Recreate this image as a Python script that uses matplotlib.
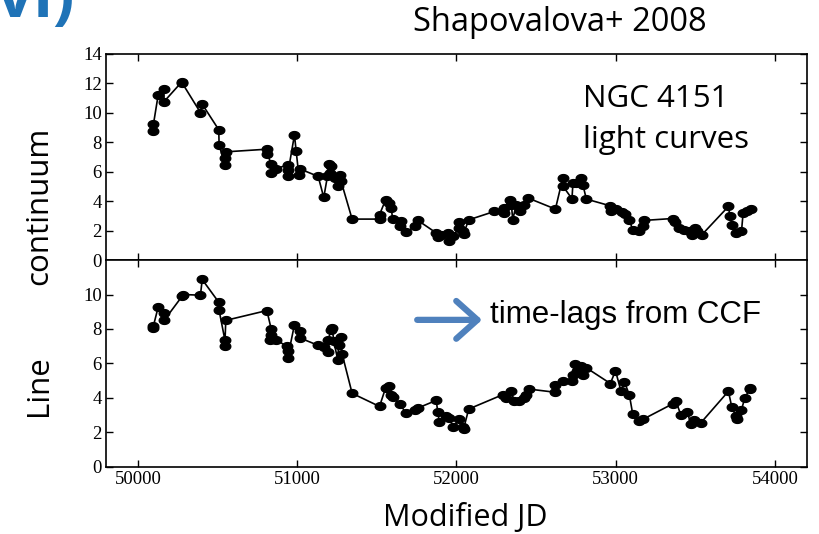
import numpy as np
import matplotlib
matplotlib.use("Agg")
import matplotlib.pyplot as plt
from matplotlib.path import Path

# continuum light curve
cont_mjd = [50094, 50098, 50128, 50163, 50165, 50278, 50280, 50393, 50404, 50508,
            50510, 50546, 50546, 50552, 50810, 50812, 50837, 50835, 50868, 50940,
            50943, 50945, 50983, 50994, 51010, 51015, 51132, 51167, 51190, 51203,
            51213, 51208, 51240, 51255, 51270, 51276, 51345, 51517, 51517, 51555,
            51576, 51590, 51600, 51643, 51653, 51685, 51737, 51758, 51873, 51883,
            51904, 51946, 51952, 51977, 52019, 52019, 52040, 52045, 52077, 52238,
            52296, 52300, 52339, 52345, 52353, 52375, 52400, 52427, 52452, 52621,
            52667, 52667, 52725, 52731, 52752, 52784, 52794, 52815, 52966, 52972,
            53000, 53042, 53060, 53085, 53106, 53147, 53172, 53178, 53357, 53372,
            53398, 53430, 53461, 53477, 53498, 53512, 53540, 53707, 53717, 53731,
            53752, 53789, 53799, 53826, 53847]
cont_flux = [8.78, 9.23, 11.24, 11.63, 10.77, 12.13, 12.0, 10.02, 10.59, 8.85,
             7.83, 6.47, 6.92, 7.35, 7.53, 7.22, 6.54, 5.9, 6.2, 6.47,
             5.68, 6.1, 8.5, 7.38, 5.8, 6.2, 5.68, 4.25, 5.68, 6.52,
             6.36, 5.9, 5.6, 5.0, 5.75, 5.34, 2.78, 2.78, 3.08, 4.09,
             3.87, 3.52, 2.78, 2.33, 2.62, 1.88, 2.29, 2.69, 1.84, 1.57,
             1.72, 1.84, 1.31, 1.66, 2.17, 2.55, 1.95, 1.8, 2.73, 3.3,
             3.53, 3.2, 4.09, 3.75, 2.73, 3.75, 3.3, 3.75, 4.2, 3.46,
             5.56, 5.04, 4.16, 5.22, 5.22, 5.56, 5.1, 4.14, 3.68, 3.36,
             3.46, 3.23, 3.1, 2.73, 2.05, 1.94, 2.33, 2.69, 2.82, 2.6,
             2.17, 2.05, 1.94, 1.71, 2.17, 1.94, 1.71, 3.64, 2.96, 2.39,
             1.83, 1.94, 3.17, 3.35, 3.46]

# emission line light curve
line_mjd = [50094, 50098, 50128, 50163, 50165, 50278, 50282, 50393, 50404, 50508,
            50510, 50546, 50546, 50552, 50810, 50837, 50835, 50832, 50868, 50935,
            50940, 50940, 50983, 51015, 51018, 51132, 51167, 51192, 51195, 51213,
            51220, 51230, 51255, 51260, 51276, 51282, 51345, 51517, 51555, 51576,
            51590, 51600, 51643, 51685, 51737, 51758, 51873, 51883, 51893, 51935,
            51952, 51981, 52019, 52040, 52045, 52077, 52290, 52310, 52343, 52363,
            52395, 52421, 52436, 52453, 52621, 52621, 52667, 52725, 52731, 52742,
            52756, 52784, 52794, 52815, 52966, 52998, 53033, 53054, 53085, 53106,
            53144, 53172, 53357, 53378, 53408, 53450, 53471, 53492, 53534, 53707,
            53728, 53752, 53760, 53789, 53810, 53840, 53845]
line_flux = [8.06, 8.19, 9.28, 8.93, 8.5, 9.9, 10.0, 9.96, 10.87, 9.55,
             9.09, 7.38, 7.03, 8.5, 9.07, 8.0, 7.67, 7.34, 7.38, 6.99,
             6.7, 6.31, 8.25, 7.86, 7.48, 7.05, 6.95, 6.64, 7.38, 7.96,
             8.06, 7.28, 6.21, 7.09, 7.53, 6.56, 4.27, 3.51, 4.58, 4.72,
             4.18, 4.05, 3.66, 3.11, 3.31, 3.42, 3.86, 3.16, 2.58, 2.93,
             2.83, 2.33, 2.76, 2.33, 2.23, 3.36, 4.19, 4.0, 4.42, 3.8,
             3.8, 4.0, 4.19, 4.52, 4.33, 4.78, 4.97, 5.01, 5.36, 5.98,
             5.55, 5.84, 5.36, 5.75, 4.84, 5.58, 4.39, 4.93, 4.19, 3.08,
             2.67, 2.77, 3.66, 3.8, 3.03, 3.16, 2.47, 2.72, 2.56, 4.39,
             3.48, 2.97, 2.8, 3.32, 4.0, 4.52, 4.58]

xticks = [50000, 51000, 52000, 53000, 54000]
cont_yticks = [0, 2, 4, 6, 8, 10, 12, 14]
line_yticks = [0, 2, 4, 6, 8, 10]

# the plot in the slide was stretched sideways, so the dots are ellipses
t = np.linspace(0, 2 * np.pi, 40)
dot = Path(np.column_stack([1.35 * np.cos(t), np.sin(t)]), closed=True)

fig = plt.figure(figsize=(8.19, 5.34), dpi=100)
ax1 = fig.add_axes([0.1294, 0.5131, 0.8559, 0.3858])
ax2 = fig.add_axes([0.1294, 0.1255, 0.8559, 0.3876])

for ax, mjd, flux, yt, ylim in [(ax1, cont_mjd, cont_flux, cont_yticks, 14),
                                (ax2, line_mjd, line_flux, line_yticks, 12)]:
    ax.plot(mjd, flux, color="black", lw=1.2, marker=dot, ms=7.6, mfc="black", mec="black")
    ax.set_xlim(49800, 54200)
    ax.set_ylim(0, ylim)
    ax.set_xticks(xticks)
    ax.set_yticks(yt)
    ax.tick_params(direction="in", top=True, right=True, length=5, width=1,
                   labelsize=13.5, pad=3)
    for lab in ax.get_xticklabels() + ax.get_yticklabels():
        lab.set_fontfamily("Liberation Serif")
    for sp in ax.spines.values():
        sp.set_linewidth(1.2)

ax1.tick_params(labelbottom=False)
ax2.set_xticklabels([str(v) for v in xticks], fontfamily="Liberation Serif")

sans = "Open Sans"
fig.text(0.683, 0.942, "Shapovalova+ 2008", fontsize=23.5, family=sans, ha="center", va="baseline")
fig.text(0.712, 0.799, "NGC 4151", fontsize=22.5, family=sans, ha="left", va="baseline")
fig.text(0.712, 0.722, "light curves", fontsize=22.5, family=sans, ha="left", va="baseline")
fig.text(0.066, 0.615, "continuum", fontsize=22.5, family=sans, rotation=90, ha="right", va="center")
fig.text(0.066, 0.277, "Line", fontsize=22.5, family=sans, rotation=90, ha="right", va="center")
fig.text(0.568, 0.002, "Modified JD", fontsize=22, family=sans, ha="center", va="bottom")
fig.text(-0.004, 0.968, "vi)", fontsize=46, family=sans, weight="bold", color="#1f73b7",
         ha="left", va="baseline")

fig.text(0.598, 0.396, "time-lags from CCF", fontsize=22.5, family="Liberation Sans",
         ha="left", va="baseline")
fig.patches.append(matplotlib.patches.FancyArrowPatch(
    (0.506, 0.401), (0.592, 0.401), transform=fig.transFigure,
    arrowstyle="->,head_length=0.38,head_width=0.34", lw=4.5, color="#4f81bd",
    capstyle="round", joinstyle="round", mutation_scale=40))

fig.savefig("out.png", dpi=100)
